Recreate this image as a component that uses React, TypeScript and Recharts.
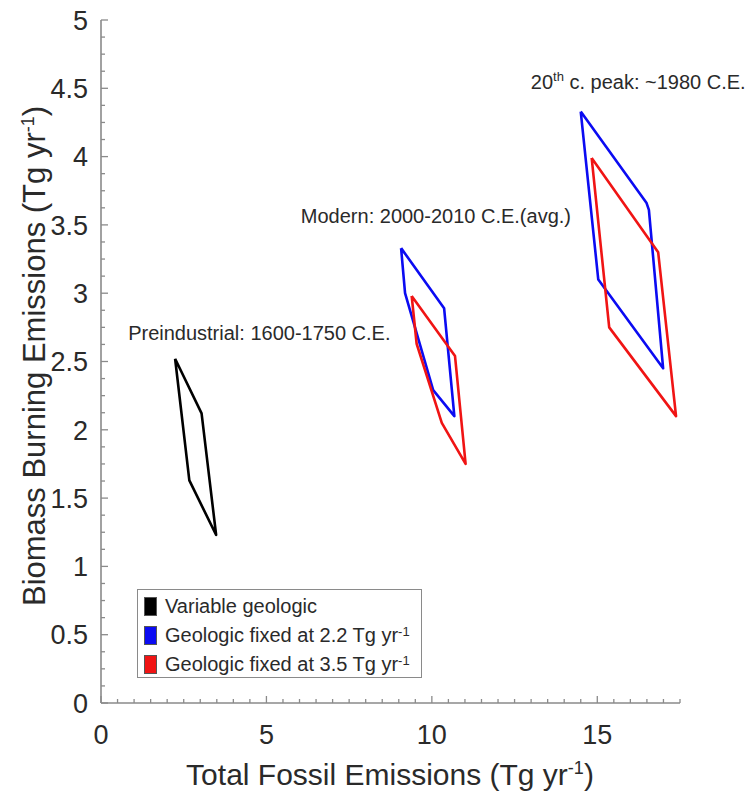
import React from 'react';
import { ComposedChart, Scatter, XAxis, YAxis, ReferenceDot, Legend } from 'recharts';

// ---- data (Tg yr-1) ----
const preindustrialVariableX = [2.24, 3.04, 3.48, 2.67, 2.24];
const preindustrialVariableY = [2.52, 2.12, 1.23, 1.63, 2.52];

const modernFixed22X = [9.07, 10.37, 10.68, 10.04, 9.19, 9.07];
const modernFixed22Y = [3.33, 2.89, 2.1, 2.29, 3.0, 3.33];

const modernFixed35X = [9.39, 10.7, 11.02, 10.3, 9.54, 9.39];
const modernFixed35Y = [2.98, 2.54, 1.75, 2.05, 2.63, 2.98];

const peakFixed22X = [14.5, 16.49, 16.56, 16.99, 15.03, 14.5];
const peakFixed22Y = [4.33, 3.66, 3.61, 2.45, 3.1, 4.33];

const peakFixed35X = [14.83, 16.84, 17.38, 15.36, 14.83];
const peakFixed35Y = [3.99, 3.3, 2.1, 2.75, 3.99];

const xMajorTicks = [0, 5, 10, 15];
const yMajorTicks = [0, 0.5, 1, 1.5, 2, 2.5, 3, 3.5, 4, 4.5, 5];
const X_MINOR_STEP = 0.5;
const Y_MINOR_STEP = 0.125;
const X_MAX = 17.5;
const Y_MAX = 5;

const legendNames = ['Variable geologic', 'Geologic fixed at 2.2 Tg yr', 'Geologic fixed at 3.5 Tg yr'];
const legendSup = ['', '-1', '-1'];

const annotations = [
  { x: 0.82, y: 2.71, text: 'Preindustrial: 1600-1750 C.E.', sup: '', rest: '' },
  { x: 6.04, y: 3.57, text: 'Modern: 2000-2010 C.E.(avg.)', sup: '', rest: '' },
  { x: 12.99, y: 4.55, text: '20', sup: 'th', rest: ' c. peak: ~1980 C.E.' },
];

// ---- styles ----
const FONT = '"Liberation Sans", Arial, Helvetica, sans-serif';
const AXIS_COLOR = '#8a8a8a';
const TEXT_COLOR = '#2a2a2a';
const BLACK = '#000000';
const BLUE = '#0b0bf2';
const RED = '#f01414';

const toPoints = (xs: number[], ys: number[]) => xs.map((x, i) => ({ x, y: ys[i] }));

const seriesList = [
  { name: 'pre-black', color: BLACK, data: toPoints(preindustrialVariableX, preindustrialVariableY) },
  { name: 'modern-blue', color: BLUE, data: toPoints(modernFixed22X, modernFixed22Y) },
  { name: 'modern-red', color: RED, data: toPoints(modernFixed35X, modernFixed35Y) },
  { name: 'peak-blue', color: BLUE, data: toPoints(peakFixed22X, peakFixed22Y) },
  { name: 'peak-red', color: RED, data: toPoints(peakFixed35X, peakFixed35Y) },
];
const legendColors = [BLACK, BLUE, RED];

const buildTicks = (max: number, step: number) => {
  const out: number[] = [];
  const n = Math.round(max / step);
  for (let i = 0; i <= n; i++) out.push(+(i * step).toFixed(4));
  return out;
};
const xTicks = buildTicks(X_MAX, X_MINOR_STEP);
const yTicks = buildTicks(Y_MAX, Y_MINOR_STEP);
const isMajor = (list: number[], v: number) => list.some((t) => Math.abs(t - v) < 1e-6);

function YTick(props: any) {
  const { x, y, payload } = props;
  const v = payload.value;
  const major = isMajor(yMajorTicks, v);
  return (
    <g>
      <line x1={x} x2={x + (major ? 7 : 4)} y1={y} y2={y} stroke={AXIS_COLOR} strokeWidth={1.3} />
      {major && (
        <text x={x - 13} y={y} dy="0.36em" textAnchor="end" fontSize={27} fontFamily={FONT} fill={TEXT_COLOR}>
          {String(v)}
        </text>
      )}
    </g>
  );
}

function XTick(props: any) {
  const { x, y, payload } = props;
  const v = payload.value;
  const major = isMajor(xMajorTicks, v);
  return (
    <g>
      <line x1={x} x2={x} y1={y} y2={y - (major ? 7 : 4)} stroke={AXIS_COLOR} strokeWidth={1.3} />
      {major && (
        <text x={x} y={y + 31} dy="0.36em" textAnchor="middle" fontSize={27} fontFamily={FONT} fill={TEXT_COLOR}>
          {String(v)}
        </text>
      )}
    </g>
  );
}

const emptyShape = () => <g />;

function renderLegend() {
  return (
    <div
      style={{
        boxSizing: 'border-box',
        width: 285,
        height: 89,
        border: `1.5px solid ${AXIS_COLOR}`,
        background: '#fff',
        padding: '2px 0 0 6px',
        fontFamily: FONT,
        fontSize: 20,
        color: TEXT_COLOR,
      }}
    >
      {legendNames.map((n, i) => (
        <div key={n} style={{ height: 29, lineHeight: '29px', display: 'flex', alignItems: 'center', whiteSpace: 'nowrap' }}>
          <span
            style={{
              display: 'inline-block',
              width: 13,
              height: 19,
              background: legendColors[i],
              border: '1px solid #555',
              boxSizing: 'border-box',
              marginRight: 8,
            }}
          />
          <span>
            {n}
            {legendSup[i] && <sup style={{ fontSize: 13, verticalAlign: 'top', lineHeight: '22px' }}>{legendSup[i]}</sup>}
          </span>
        </div>
      ))}
    </div>
  );
}

const makeAnnotation = (a: typeof annotations[number]) => (p: any) => {
  const vb = p.viewBox || {};
  return (
    <text x={vb.x} y={vb.y} dy="0.36em" textAnchor="start" fontSize={20} fontFamily={FONT} fill={TEXT_COLOR}>
      {a.text}
      {a.sup && (
        <tspan dy={-8} fontSize={13}>
          {a.sup}
        </tspan>
      )}
      {a.rest && <tspan dy={a.sup ? 8 : 0}>{a.rest}</tspan>}
    </text>
  );
};

const xTitle = (p: any) => (
  <text x={390} y={785} textAnchor="middle" fontSize={30} fontFamily={FONT} fill={TEXT_COLOR}>
    Total Fossil Emissions (Tg yr
    <tspan dy={-11} fontSize={18}>-1</tspan>
    <tspan dy={11}>)</tspan>
  </text>
);

const yTitle = (p: any) => (
  <text x={45} y={356} transform="rotate(-90, 45, 356)" textAnchor="middle" fontSize={31} fontFamily={FONT} fill={TEXT_COLOR}>
    Biomass Burning Emissions (Tg yr
    <tspan dy={-11} fontSize={18}>-1</tspan>
    <tspan dy={11}>)</tspan>
  </text>
);

export default function App() {
  return (
    <div style={{ position: 'absolute', left: 0, top: 0, width: 753, height: 793, background: '#fff' }}>
      <ComposedChart width={753} height={793} margin={{ top: 20, right: 73, bottom: 0, left: 0 }}>
        <XAxis
          type="number"
          dataKey="x"
          domain={[0, X_MAX]}
          ticks={xTicks}
          interval={0}
          tickSize={0}
          tickMargin={0}
          tickLine={false}
          axisLine={{ stroke: AXIS_COLOR, strokeWidth: 1.6 }}
          tick={(p: any) => <XTick {...p} />}
          height={90}
          allowDataOverflow
          label={{ content: xTitle }}
        />
        <YAxis
          type="number"
          dataKey="y"
          domain={[0, Y_MAX]}
          ticks={yTicks}
          interval={0}
          tickSize={0}
          tickMargin={0}
          tickLine={false}
          axisLine={{ stroke: AXIS_COLOR, strokeWidth: 1.6 }}
          tick={(p: any) => <YTick {...p} />}
          width={101}
          allowDataOverflow
          label={{ content: yTitle }}
        />
        {seriesList.map((s) => (
          <Scatter
            key={s.name}
            name={s.name}
            data={s.data}
            fill={s.color}
            line={{ stroke: s.color, strokeWidth: 2.6, strokeLinejoin: 'round' }}
            lineJointType="linear"
            shape={emptyShape}
            isAnimationActive={false}
            legendType="square"
          />
        ))}
        {annotations.map((a, i) => (
          <ReferenceDot key={i} x={a.x} y={a.y} r={0} fill="none" stroke="none" label={makeAnnotation(a)} />
        ))}
        <Legend
          layout="vertical"
          align="center"
          verticalAlign="middle"
          content={renderLegend}
          wrapperStyle={{ position: 'absolute', left: 137, top: 589, width: 285, height: 89 }}
        />
      </ComposedChart>
    </div>
  );
}
